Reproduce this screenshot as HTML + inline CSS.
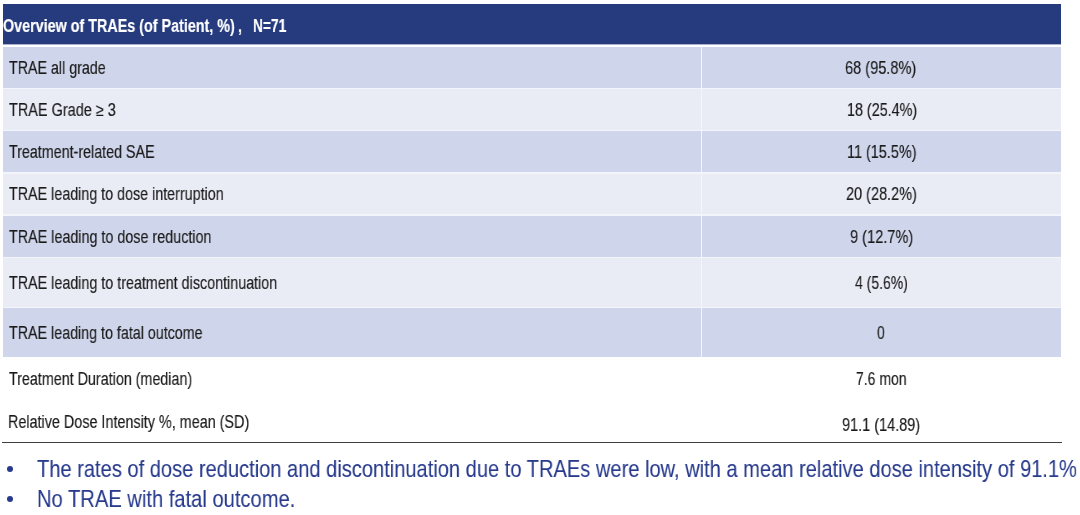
<!DOCTYPE html>
<html><head><meta charset="utf-8">
<style>
html,body{margin:0;padding:0;background:#fff;}
body{width:1080px;height:515px;overflow:hidden;position:relative;font-family:"Liberation Sans",sans-serif;}
.bx{position:absolute;left:3px;width:1058px;}
.hd{top:4px;height:40.4px;background:#263B7D;}
.d{background:#CFD5EA;}
.l{background:#E9EBF5;}
.vd{position:absolute;left:701px;width:1px;background:#F4F5FA;}
.t{position:absolute;white-space:nowrap;transform-origin:0 0;line-height:1;will-change:transform;}
.rule{position:absolute;left:2px;width:1060px;top:442px;height:1px;background:#404040;}
.dot{position:absolute;width:6px;height:6px;border-radius:50%;background:#273A8C;}
</style></head><body>
<div class="bx hd"></div>
<div class="bx" style="top:44px;height:1px;background:#A8B1CB"></div>
<div class="bx" style="top:47px;height:310px;background:#F4F5FA"></div>
<div class="bx d" style="top:47px;height:41px"></div>
<div class="bx l" style="top:89px;height:41px"></div>
<div class="bx d" style="top:131px;height:41px"></div>
<div class="bx l" style="top:174px;height:40px"></div>
<div class="bx d" style="top:216px;height:41px"></div>
<div class="bx l" style="top:258px;height:49px"></div>
<div class="bx d" style="top:308px;height:49px"></div>
<div class="vd" style="top:47px;height:310px"></div>
<div class="rule"></div>
<div class="dot" style="left:7px;top:466.3px"></div>
<div class="dot" style="left:7px;top:496px"></div>
<div class="t" style="left:3.2px;top:17.2px;font-size:18px;font-weight:700;color:#fff;transform:scaleX(0.7965);-webkit-text-stroke:0.2px #fff">Overview of TRAEs (of Patient, %)</div>
<div class="t" style="left:237.8px;top:17.2px;font-size:18px;font-weight:700;color:#fff;transform:scaleX(0.8000);-webkit-text-stroke:0.2px #fff">,</div>
<div class="t" style="left:252.94px;top:17.2px;font-size:18px;font-weight:700;color:#fff;transform:scaleX(0.7643);-webkit-text-stroke:0.2px #fff">N=71</div>
<div class="t" style="left:8.9px;top:59.85px;font-size:17.5px;font-weight:400;color:#1A1A1A;transform:scaleX(0.8144);-webkit-text-stroke:0.15px #1A1A1A">TRAE all grade</div>
<div class="t" style="left:8.9px;top:101.55px;font-size:17.5px;font-weight:400;color:#1A1A1A;transform:scaleX(0.8264);-webkit-text-stroke:0.15px #1A1A1A">TRAE Grade ≥ 3</div>
<div class="t" style="left:8.9px;top:144.15px;font-size:17.5px;font-weight:400;color:#1A1A1A;transform:scaleX(0.8163);-webkit-text-stroke:0.15px #1A1A1A">Treatment-related SAE</div>
<div class="t" style="left:8.9px;top:186.25px;font-size:17.5px;font-weight:400;color:#1A1A1A;transform:scaleX(0.8172);-webkit-text-stroke:0.15px #1A1A1A">TRAE leading to dose interruption</div>
<div class="t" style="left:8.9px;top:228.98px;font-size:17.5px;font-weight:400;color:#1A1A1A;transform:scaleX(0.8191);-webkit-text-stroke:0.15px #1A1A1A">TRAE leading to dose reduction</div>
<div class="t" style="left:8.9px;top:274.8px;font-size:17.5px;font-weight:400;color:#1A1A1A;transform:scaleX(0.8180);-webkit-text-stroke:0.15px #1A1A1A">TRAE leading to treatment discontinuation</div>
<div class="t" style="left:8.9px;top:325.4px;font-size:17.5px;font-weight:400;color:#1A1A1A;transform:scaleX(0.8156);-webkit-text-stroke:0.15px #1A1A1A">TRAE leading to fatal outcome</div>
<div class="t" style="left:8.9px;top:371.35px;font-size:17.5px;font-weight:400;color:#1A1A1A;transform:scaleX(0.8175);-webkit-text-stroke:0.15px #1A1A1A">Treatment Duration (median)</div>
<div class="t" style="left:8.08px;top:413.95px;font-size:17.5px;font-weight:400;color:#1A1A1A;transform:scaleX(0.8212);-webkit-text-stroke:0.15px #1A1A1A">Relative Dose Intensity %, mean (SD)</div>
<div class="t" style="left:845.47px;top:59.85px;font-size:17.5px;font-weight:400;color:#1A1A1A;transform:scaleX(0.8321);-webkit-text-stroke:0.15px #1A1A1A">68 (95.8%)</div>
<div class="t" style="left:846.58px;top:101.55px;font-size:17.5px;font-weight:400;color:#1A1A1A;transform:scaleX(0.8190);-webkit-text-stroke:0.15px #1A1A1A">18 (25.4%)</div>
<div class="t" style="left:847.08px;top:144.15px;font-size:17.5px;font-weight:400;color:#1A1A1A;transform:scaleX(0.8244);-webkit-text-stroke:0.15px #1A1A1A">11 (15.5%)</div>
<div class="t" style="left:845.87px;top:186.25px;font-size:17.5px;font-weight:400;color:#1A1A1A;transform:scaleX(0.8274);-webkit-text-stroke:0.15px #1A1A1A">20 (28.2%)</div>
<div class="t" style="left:849.67px;top:228.98px;font-size:17.5px;font-weight:400;color:#1A1A1A;transform:scaleX(0.8324);-webkit-text-stroke:0.15px #1A1A1A">9 (12.7%)</div>
<div class="t" style="left:855.35px;top:274.8px;font-size:17.5px;font-weight:400;color:#1A1A1A;transform:scaleX(0.8000);-webkit-text-stroke:0.15px #1A1A1A">4 (5.6%)</div>
<div class="t" style="left:877px;top:325.4px;font-size:17.5px;font-weight:400;color:#1A1A1A;transform:scaleX(0.8000);-webkit-text-stroke:0.15px #1A1A1A">0</div>
<div class="t" style="left:856.3px;top:371.27px;font-size:17.5px;font-weight:400;color:#1A1A1A;transform:scaleX(0.8000);-webkit-text-stroke:0.15px #1A1A1A">7.6 mon</div>
<div class="t" style="left:842.27px;top:417.15px;font-size:17.5px;font-weight:400;color:#1A1A1A;transform:scaleX(0.8283);-webkit-text-stroke:0.15px #1A1A1A">91.1 (14.89)</div>
<div class="t" style="left:36.86px;top:457.48px;font-size:24px;font-weight:400;color:#273A8C;transform:scaleX(0.8367);-webkit-text-stroke:0.1px #273A8C">The rates of dose reduction and discontinuation due to TRAEs were low, with a mean relative dose intensity of 91.1%</div>
<div class="t" style="left:37.02px;top:486.95px;font-size:24px;font-weight:400;color:#273A8C;transform:scaleX(0.8395);-webkit-text-stroke:0.1px #273A8C">No TRAE with fatal outcome.</div>
</body></html>
